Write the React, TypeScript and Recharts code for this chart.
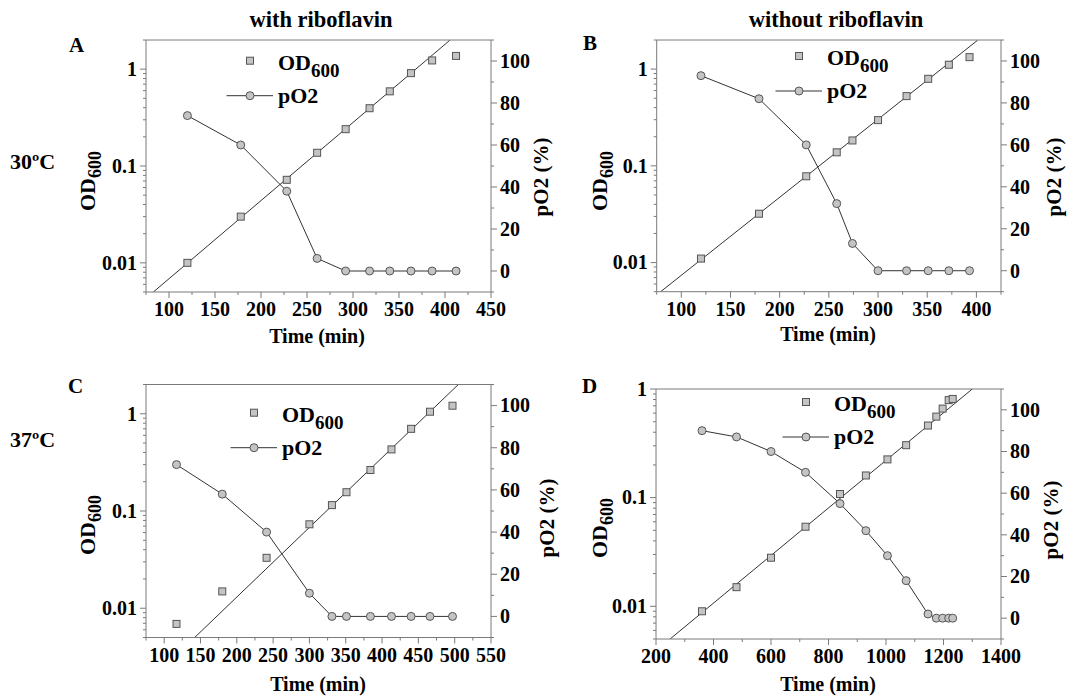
import React from 'react';
import { ComposedChart, Line, XAxis, YAxis, ReferenceLine } from 'recharts';

const FONT = '"Liberation Serif", "Times New Roman", serif';
const AX = '#7a7a7a';
const MF = '#c4c4c4';
const MS = '#555555';
const LC = '#333333';

// ---------- Panel A: 30ºC with riboflavin ----------
const timeA = [120, 178, 228, 261, 292, 318, 340, 363, 386, 412];
const odA = [0.010, 0.030, 0.072, 0.137, 0.24, 0.395, 0.59, 0.91, 1.23, 1.37];
const po2A = [74, 60, 38, 6, 0, 0, 0, 0, 0, 0];
const fitTimeA = [83, 405];
const fitOdA = [0.005, 1.98];

// ---------- Panel B: 30ºC without riboflavin ----------
const timeB = [120, 179, 227, 258, 274, 300, 329, 351, 372, 393];
const odB = [0.011, 0.032, 0.078, 0.138, 0.183, 0.297, 0.526, 0.794, 1.11, 1.33];
const po2B = [93, 82, 60, 32, 13, 0, 0, 0, 0, 0];
const fitTimeB = [79, 401];
const fitOdB = [0.005, 1.98];

// ---------- Panel C: 37ºC with riboflavin ----------
const timeC = [117, 180, 241, 300, 331, 351, 384, 413, 440, 466, 497];
const odC = [0.0069, 0.0149, 0.033, 0.073, 0.115, 0.156, 0.264, 0.43, 0.70, 1.05, 1.21];
const po2C = [72, 58, 40, 11, 0, 0, 0, 0, 0, 0, 0];
const fitTimeC = [142, 505];
const fitOdC = [0.005, 2];

// ---------- Panel D: 37ºC without riboflavin ----------
const timeD = [360, 480, 600, 720, 840, 930, 1005, 1070, 1146, 1175, 1197, 1218, 1232];
const odD = [0.009, 0.015, 0.028, 0.054, 0.108, 0.160, 0.225, 0.304, 0.461, 0.557, 0.66, 0.79, 0.81];
const po2D = [90, 87, 80, 70, 55, 42, 30, 18, 2, 0, 0, 0, 0];
const fitTimeD = [249, 1300];
const fitOdD = [0.005, 1];

// ---------- Tick labels ----------
const xMajorA = [100, 150, 200, 250, 300, 350, 400, 450];
const xMinorA = [75, 125, 175, 225, 275, 325, 375, 425];
const xMajorB = [100, 150, 200, 250, 300, 350, 400];
const xMinorB = [75, 125, 175, 225, 275, 325, 375, 425];
const xMajorC = [100, 150, 200, 250, 300, 350, 400, 450, 500, 550];
const xMinorC = [75, 125, 175, 225, 275, 325, 375, 425, 475, 525];
const xMajorD = [200, 400, 600, 800, 1000, 1200, 1400];
const xMinorD = [300, 500, 700, 900, 1100, 1300];
const odMajor = [0.01, 0.1, 1];
const odMinor = [0.005, 0.006, 0.007, 0.008, 0.009, 0.02, 0.03, 0.04, 0.05, 0.06, 0.07, 0.08, 0.09,
  0.2, 0.3, 0.4, 0.5, 0.6, 0.7, 0.8, 0.9, 2];
const odMinorD = odMinor.filter((v) => v < 1);
const pMajor = [0, 20, 40, 60, 80, 100];
const pMinor = [-10, 10, 30, 50, 70, 90, 110];

const TS = 6;
const TM = 4;
const TFS = 20;

const isIn = (arr: number[], v: number) => arr.some((m) => Math.abs(m - v) < 1e-9);

function LeftTick(props: any) {
  const { x, y, payload, majors } = props;
  const v = payload.value;
  const major = isIn(majors, v);
  const ax = x + TS + TM;
  return (
    <g>
      <line x1={ax - (major ? 6 : 3)} x2={ax} y1={y} y2={y} stroke={AX} />
      {major && (
        <text x={ax - TS - TM + 1} y={y} dy="0.34em" textAnchor="end" fontSize={TFS} fontWeight={700} fill="#000" style={{ fontFamily: FONT, fontWeight: 700 }}>
          {String(v)}
        </text>
      )}
    </g>
  );
}

function RightTick(props: any) {
  const { x, y, payload, majors } = props;
  const v = payload.value;
  const major = isIn(majors, v);
  const ax = x - TS - TM;
  return (
    <g>
      <line x1={ax} x2={ax + (major ? 6 : 3)} y1={y} y2={y} stroke={AX} />
      {major && (
        <text x={ax + TS + TM - 1} y={y} dy="0.34em" textAnchor="start" fontSize={TFS} fontWeight={700} fill="#000" style={{ fontFamily: FONT, fontWeight: 700 }}>
          {String(v)}
        </text>
      )}
    </g>
  );
}

function BottomTick(props: any) {
  const { x, y, payload, majors } = props;
  const v = payload.value;
  const major = isIn(majors, v);
  const ay = y - TS - TM;
  return (
    <g>
      <line x1={x} x2={x} y1={ay} y2={ay + (major ? 6 : 3)} stroke={AX} />
      {major && (
        <text x={x} y={ay + TS + TM} dy="0.72em" textAnchor="middle" fontSize={TFS} fontWeight={700} fill="#000" style={{ fontFamily: FONT, fontWeight: 700 }}>
          {String(v)}
        </text>
      )}
    </g>
  );
}

const pair = (ts: number[], vs: number[], key: string) => ts.map((t, i) => ({ t, [key]: vs[i] }));

const squareDot = (p: any) => {
  if (p.cx == null || p.cy == null) return <g key={`s-${p.index}`} />;
  return <rect key={`s-${p.index}`} x={p.cx - 3.5} y={p.cy - 3.5} width={7} height={7} fill={MF} stroke={MS} strokeWidth={1} />;
};
const circleDot = (p: any) => {
  if (p.cx == null || p.cy == null) return <g key={`c-${p.index}`} />;
  return <circle key={`c-${p.index}`} cx={p.cx} cy={p.cy} r={4} fill={MF} stroke={MS} strokeWidth={1} />;
};

type PanelProps = {
  L: number; T: number; W: number; H: number;
  PL: number; PR: number; PT: number; PB: number;
  time: number[]; od: number[]; po2: number[]; fitT: number[]; fitOd: number[];
  xDomain: [number, number]; xMajor: number[]; xMinor: number[];
  odDomain: [number, number]; odMinorTicks: number[];
};

function Panel(pp: PanelProps) {
  const odData = pair(pp.time, pp.od, 'od');
  const pData = pair(pp.time, pp.po2, 'p');
  const fitData = pair(pp.fitT, pp.fitOd, 'od');
  const xTicks = [...pp.xMajor, ...pp.xMinor].sort((a, b) => a - b);
  const odTicks = [...odMajor, ...pp.odMinorTicks].sort((a, b) => a - b);
  const pTicks = [...pMajor, ...pMinor].sort((a, b) => a - b);
  return (
    <div style={{ position: 'absolute', left: pp.L, top: pp.T, width: pp.W, height: pp.H }}>
      <ComposedChart
        width={pp.W}
        height={pp.H}
        margin={{ top: pp.PT - pp.T, left: 0, right: 0, bottom: 0 }}
      >
        <XAxis
          xAxisId="x"
          dataKey="t"
          type="number"
          domain={pp.xDomain}
          allowDataOverflow
          ticks={xTicks}
          interval={0}
          height={pp.T + pp.H - pp.PB}
          tickSize={TS}
          tickMargin={TM}
          tickLine={false}
          axisLine={{ stroke: AX }}
          tick={(p: any) => <BottomTick {...p} majors={pp.xMajor} />}
        />
        <YAxis
          yAxisId="od"
          orientation="left"
          scale="log"
          type="number"
          domain={pp.odDomain}
          allowDataOverflow
          ticks={odTicks}
          interval={0}
          width={pp.PL - pp.L}
          tickSize={TS}
          tickMargin={TM}
          tickLine={false}
          axisLine={{ stroke: AX }}
          tick={(p: any) => <LeftTick {...p} majors={odMajor} />}
        />
        <YAxis
          yAxisId="p"
          orientation="right"
          type="number"
          domain={[-10, 110]}
          allowDataOverflow
          ticks={pTicks}
          interval={0}
          width={pp.L + pp.W - pp.PR}
          tickSize={TS}
          tickMargin={TM}
          tickLine={false}
          axisLine={{ stroke: AX }}
          tick={(p: any) => <RightTick {...p} majors={pMajor} />}
        />
        <ReferenceLine xAxisId="x" yAxisId="p" y={110} stroke={AX} />
        <Line
          xAxisId="x"
          yAxisId="od"
          data={fitData}
          dataKey="od"
          type="linear"
          stroke={LC}
          strokeWidth={1}
          dot={false}
          activeDot={false}
          isAnimationActive={false}
        />
        <Line
          xAxisId="x"
          yAxisId="p"
          data={pData}
          dataKey="p"
          type="linear"
          stroke={LC}
          strokeWidth={1}
          dot={circleDot}
          activeDot={false}
          isAnimationActive={false}
        />
        <Line
          xAxisId="x"
          yAxisId="od"
          data={odData}
          dataKey="od"
          type="linear"
          stroke="none"
          dot={squareDot}
          activeDot={false}
          isAnimationActive={false}
        />
      </ComposedChart>
    </div>
  );
}

function LegendG({ sx, sy }: { sx: number; sy: number }) {
  return (
    <g>
      <rect x={sx - 3.5} y={sy - 3.5} width={7} height={7} fill={MF} stroke={MS} />
      <text x={sx + 28} y={sy + 9} fontSize={22} fontWeight="bold">
        OD<tspan fontSize={19} dy={7}>600</tspan>
      </text>
      <line x1={sx - 23.5} x2={sx + 23} y1={sy + 35} y2={sy + 35} stroke={LC} />
      <circle cx={sx} cy={sy + 35} r={4} fill={MF} stroke={MS} />
      <text x={sx + 28} y={sy + 42} fontSize={22} fontWeight="bold">pO2</text>
    </g>
  );
}

function YLabelOD({ x, y }: { x: number; y: number }) {
  return (
    <text transform={`translate(${x},${y}) rotate(-90)`} textAnchor="middle" fontSize={22} fontWeight="bold">
      OD<tspan fontSize={18} dy={6}>600</tspan>
    </text>
  );
}
function YLabelP({ x, y }: { x: number; y: number }) {
  return (
    <text transform={`translate(${x},${y}) rotate(-90)`} textAnchor="middle" fontSize={21} fontWeight="bold">
      pO2 (%)
    </text>
  );
}
function XLabel({ x, y }: { x: number; y: number }) {
  return (
    <text x={x} y={y} textAnchor="middle" fontSize={20} fontWeight="bold">
      Time (min)
    </text>
  );
}

export default function App() {
  return (
    <div style={{ position: 'absolute', left: 0, top: 0, width: 1070, height: 698, background: '#fff', fontFamily: FONT, overflow: 'hidden' }}>
      <Panel L={0} T={0} W={565} H={360} PL={146} PR={491} PT={40} PB={292}
        time={timeA} od={odA} po2={po2A} fitT={fitTimeA} fitOd={fitOdA}
        xDomain={[75, 450]} xMajor={xMajorA} xMinor={xMinorA} odDomain={[0.005, 2]} odMinorTicks={odMinor} />
      <Panel L={565} T={0} W={505} H={360} PL={656.7} PR={1001} PT={40} PB={291.7}
        time={timeB} od={odB} po2={po2B} fitT={fitTimeB} fitOd={fitOdB}
        xDomain={[75, 425]} xMajor={xMajorB} xMinor={xMinorB} odDomain={[0.005, 2]} odMinorTicks={odMinor} />
      <Panel L={0} T={360} W={565} H={338} PL={146} PR={491} PT={384.5} PB={637.5}
        time={timeC} od={odC} po2={po2C} fitT={fitTimeC} fitOd={fitOdC}
        xDomain={[75, 550]} xMajor={xMajorC} xMinor={xMinorC} odDomain={[0.005, 2]} odMinorTicks={odMinor} />
      <Panel L={565} T={360} W={505} H={338} PL={656} PR={1001} PT={389} PB={639}
        time={timeD} od={odD} po2={po2D} fitT={fitTimeD} fitOd={fitOdD}
        xDomain={[200, 1400]} xMajor={xMajorD} xMinor={xMinorD} odDomain={[0.005, 1]} odMinorTicks={odMinorD} />
      <svg width={1070} height={698} style={{ position: 'absolute', left: 0, top: 0, pointerEvents: 'none' }} fontFamily={FONT} fill="#000">
        <text x={321} y={27} textAnchor="middle" fontSize={22.5} fontWeight="bold">with riboflavin</text>
        <text x={836} y={27} textAnchor="middle" fontSize={22.5} fontWeight="bold">without riboflavin</text>
        <text x={69} y={52} fontSize={21} fontWeight="bold">A</text>
        <text x={583} y={50} fontSize={21} fontWeight="bold">B</text>
        <text x={68} y={393} fontSize={21} fontWeight="bold">C</text>
        <text x={582} y={393} fontSize={21} fontWeight="bold">D</text>
        <text x={10} y={169} fontSize={22} fontWeight="bold">30ºC</text>
        <text x={10} y={447} fontSize={22} fontWeight="bold">37ºC</text>
        <YLabelOD x={95} y={181} />
        <YLabelOD x={607} y={181} />
        <YLabelOD x={95} y={525} />
        <YLabelOD x={607} y={528} />
        <YLabelP x={548} y={177} />
        <YLabelP x={1061} y={177} />
        <YLabelP x={554} y={518} />
        <YLabelP x={1058} y={520} />
        <XLabel x={317} y={343} />
        <XLabel x={828} y={341} />
        <XLabel x={318} y={691} />
        <XLabel x={828} y={691} />
        <LegendG sx={250} sy={60.7} />
        <LegendG sx={799} sy={56} />
        <LegendG sx={254} sy={412.7} />
        <LegendG sx={806} sy={402} />
      </svg>
    </div>
  );
}
